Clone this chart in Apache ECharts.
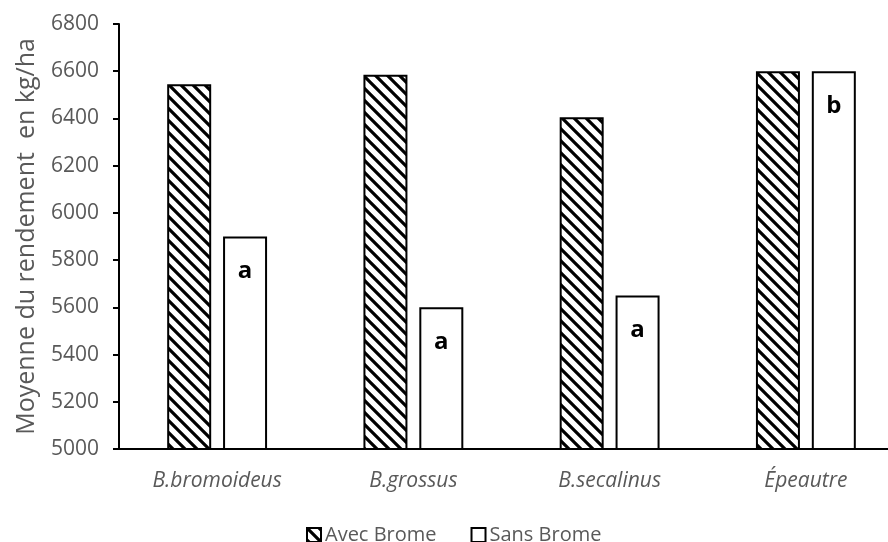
<!DOCTYPE html>
<html>
<head>
<meta charset="utf-8">
<script src="https://cdn.jsdelivr.net/npm/echarts@6/dist/echarts.min.js"></script>
<style>html,body{margin:0;padding:0;background:#fff;overflow:hidden}#c{width:904px;height:542px}</style>
</head>
<body>
<div id="c"></div>
<script>
const categories = ['B.bromoideus', 'B.grossus', 'B.secalinus', 'Épeautre'];
const avecBrome = [6545, 6585, 6405, 6600];
const sansBrome = [5900, 5600, 5650, 6600];
const sansLabels = ['a', 'a', 'a', 'b'];
const seriesNames = ['Avec Brome', 'Sans Brome'];
const yTicks = { min: 5000, max: 6800, interval: 200 };
const yTitle = 'Moyenne du rendement  en kg/ha';

function hatch() {
  const s = 12;
  const cv = document.createElement('canvas');
  cv.width = s; cv.height = s;
  const ctx = cv.getContext('2d');
  ctx.fillStyle = '#fff';
  ctx.fillRect(0, 0, s, s);
  ctx.strokeStyle = '#000';
  ctx.lineWidth = 3.2;
  ctx.beginPath();
  ctx.moveTo(-s, -s); ctx.lineTo(2 * s, 2 * s);
  ctx.moveTo(-s, 0); ctx.lineTo(s, 2 * s);
  ctx.moveTo(0, -s); ctx.lineTo(2 * s, s);
  ctx.stroke();
  return cv;
}

const chart = echarts.init(document.getElementById('c'), null, { renderer: 'canvas' });
const font = '"Open Sans", sans-serif';
chart.setOption({
  animation: false,
  textStyle: { fontFamily: font },
  legend: {
    data: seriesNames,
    top: 520,
    left: 301,
    itemWidth: 14,
    itemHeight: 14,
    itemGap: 34,
    icon: 'rect',
    textStyle: { color: '#595959', fontSize: 20, fontFamily: font, padding: [0, 0, 0, -1] }
  },
  grid: { left: 119, top: 24, right: 0, bottom: 93, containLabel: false },
  xAxis: {
    type: 'category',
    data: categories,
    axisLine: { lineStyle: { color: '#000', width: 2 } },
    axisTick: { show: false },
    axisLabel: { color: '#595959', fontSize: 21, fontStyle: 'italic', fontFamily: font, margin: 22 }
  },
  yAxis: {
    type: 'value',
    min: yTicks.min,
    max: yTicks.max,
    interval: yTicks.interval,
    name: yTitle,
    nameLocation: 'middle',
    nameGap: 80,
    nameTextStyle: { color: '#595959', fontSize: 25, fontFamily: font },
    axisLine: { show: true, lineStyle: { color: '#000', width: 2 } },
    axisTick: { show: true, length: 6, lineStyle: { color: '#000', width: 2 } },
    splitLine: { show: false },
    axisLabel: { color: '#595959', fontSize: 21, fontFamily: font, margin: 20, formatter: v => String(v) }
  },
  series: [
    {
      name: seriesNames[0],
      type: 'bar',
      data: avecBrome,
      barWidth: 44,
      barGap: '27%',
      itemStyle: { color: { image: hatch(), repeat: 'repeat' }, borderColor: '#000', borderWidth: 2 }
    },
    {
      name: seriesNames[1],
      type: 'bar',
      data: sansBrome,
      barWidth: 44,
      barGap: '27%',
      itemStyle: { color: '#fff', borderColor: '#000', borderWidth: 2 },
      label: {
        show: true,
        position: 'insideTop',
        distance: 23,
        formatter: p => sansLabels[p.dataIndex],
        color: '#000',
        fontWeight: 'bold',
        fontSize: 24,
        fontFamily: font
      }
    }
  ]
});
</script>
</body>
</html>
